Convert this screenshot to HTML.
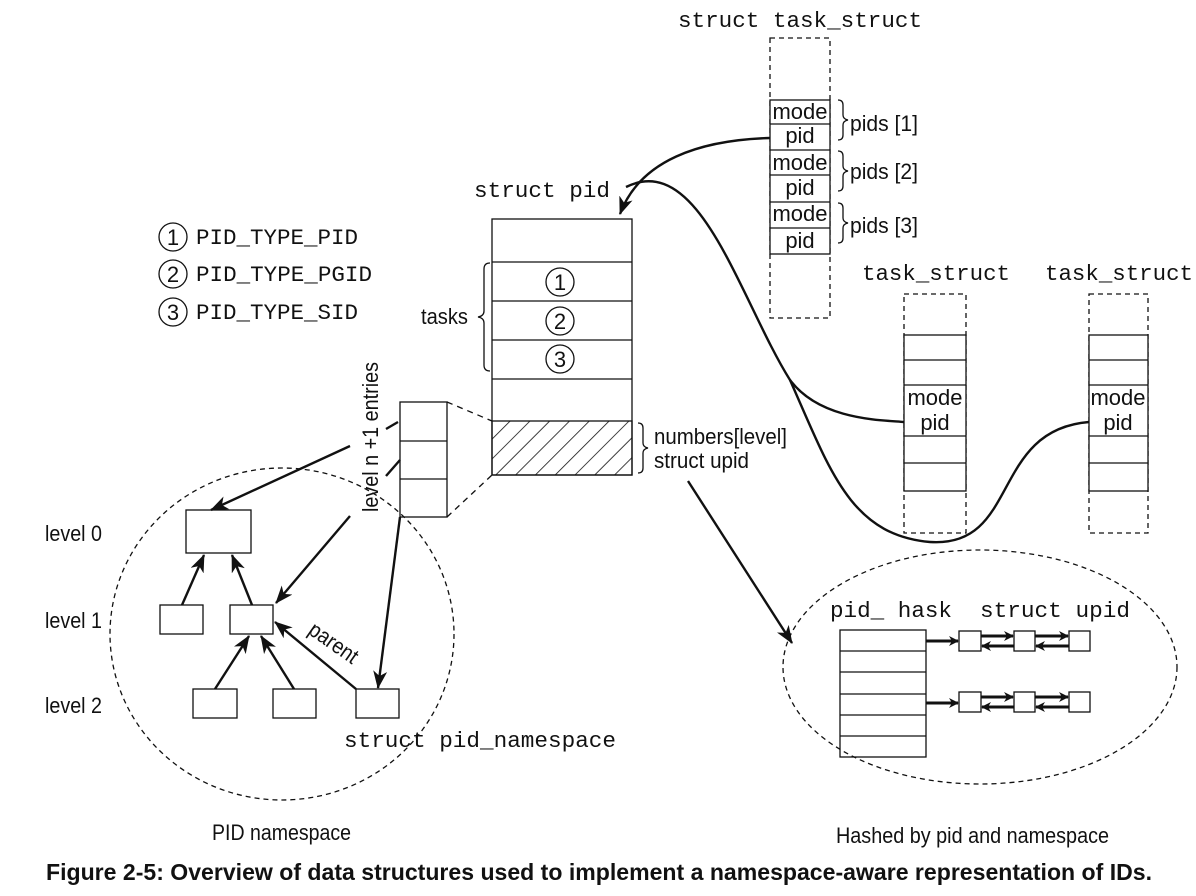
<!DOCTYPE html>
<html><head><style>
body{margin:0;background:#fff;}
svg{display:block;}
.m{font-family:"Liberation Mono",monospace;font-size:22px;}
.s{font-family:"Liberation Sans",sans-serif;font-size:22px;}
</style></head><body>
<svg width="1196" height="896" viewBox="0 0 1196 896" xmlns="http://www.w3.org/2000/svg">
<defs>
<marker id="a" markerWidth="10" markerHeight="10" refX="9" refY="5" orient="auto" markerUnits="userSpaceOnUse"><path d="M0,0 L10,5 L0,10 L3,5 z" fill="#111"/></marker>
<marker id="b" markerWidth="18" markerHeight="14" refX="17" refY="7" orient="auto" markerUnits="userSpaceOnUse"><path d="M0,0 L18,7 L0,14 L5,7 z" fill="#111"/></marker>
<pattern id="h" width="14" height="14" patternUnits="userSpaceOnUse" patternTransform="rotate(45)"><line x1="0" y1="0" x2="0" y2="14" stroke="#111" stroke-width="1.6"/></pattern>
</defs>
<g fill="none" stroke="#111" stroke-width="1.3">
<ellipse cx="282" cy="634" rx="172" ry="166" stroke-dasharray="5,4"/>
<ellipse cx="980" cy="667" rx="197" ry="117" stroke-dasharray="5,4"/>
<rect x="400" y="402" width="47" height="115"/>
<line x1="400" y1="441" x2="447" y2="441"/><line x1="400" y1="479" x2="447" y2="479"/>
<line x1="447" y1="402" x2="492" y2="421" stroke-dasharray="6,5"/>
<line x1="447" y1="517" x2="492" y2="475" stroke-dasharray="6,5"/>
<rect x="186" y="510" width="65" height="43"/>
<rect x="160" y="605" width="43" height="29"/><rect x="230" y="605" width="43" height="29"/>
<rect x="193" y="689" width="44" height="29"/><rect x="273" y="689" width="43" height="29"/><rect x="356" y="689" width="43" height="29"/>
<rect x="492" y="219" width="140" height="256"/>
<rect x="492" y="421" width="140" height="54" fill="url(#h)"/>
<line x1="492" y1="262" x2="632" y2="262"/><line x1="492" y1="301" x2="632" y2="301"/><line x1="492" y1="340" x2="632" y2="340"/><line x1="492" y1="379" x2="632" y2="379"/>
<circle cx="560" cy="282" r="14"/><circle cx="560" cy="321" r="14"/><circle cx="560" cy="359" r="14"/>
<circle cx="173" cy="237" r="14"/><circle cx="173" cy="274" r="14"/><circle cx="173" cy="312" r="14"/>
<path d="M490,263 q-6,0 -6,6 v42 q0,5 -6,6 q6,1 6,6 v42 q0,6 6,6"/>
<path d="M638,423 q5,0 5,5 v15 q0,4 5,5 q-5,1 -5,5 v15 q0,5 -5,5"/>
<path d="M838,100 q5,0 5,5 v10 q0,4 5,5 q-5,1 -5,5 v10 q0,5 -5,5"/>
<path d="M838,151 q5,0 5,5 v10 q0,4 5,5 q-5,1 -5,5 v10 q0,5 -5,5"/>
<path d="M838,203 q5,0 5,5 v10 q0,4 5,5 q-5,1 -5,5 v10 q0,5 -5,5"/>
<rect x="770" y="38" width="60" height="280" stroke-dasharray="5,4"/>
<rect x="770" y="100" width="60" height="154" fill="#fff"/>
<line x1="770" y1="124" x2="830" y2="124"/><line x1="770" y1="150" x2="830" y2="150"/><line x1="770" y1="175" x2="830" y2="175"/><line x1="770" y1="202" x2="830" y2="202"/><line x1="770" y1="228" x2="830" y2="228"/>
<rect x="904" y="294" width="62" height="239" stroke-dasharray="5,4"/>
<rect x="904" y="335" width="62" height="156" fill="#fff"/>
<line x1="904" y1="360" x2="966" y2="360"/><line x1="904" y1="385" x2="966" y2="385"/><line x1="904" y1="436" x2="966" y2="436"/><line x1="904" y1="463" x2="966" y2="463"/>
<rect x="1089" y="294" width="59" height="239" stroke-dasharray="5,4"/>
<rect x="1089" y="335" width="59" height="156" fill="#fff"/>
<line x1="1089" y1="360" x2="1148" y2="360"/><line x1="1089" y1="385" x2="1148" y2="385"/><line x1="1089" y1="436" x2="1148" y2="436"/><line x1="1089" y1="463" x2="1148" y2="463"/>
<rect x="840" y="630" width="86" height="127"/>
<line x1="840" y1="651" x2="926" y2="651"/><line x1="840" y1="672" x2="926" y2="672"/><line x1="840" y1="694" x2="926" y2="694"/><line x1="840" y1="715" x2="926" y2="715"/><line x1="840" y1="736" x2="926" y2="736"/>
<rect x="959" y="631" width="22" height="20"/><rect x="1014" y="631" width="21" height="20"/><rect x="1069" y="631" width="21" height="20"/>
<rect x="959" y="692" width="22" height="20"/><rect x="1014" y="692" width="21" height="20"/><rect x="1069" y="692" width="21" height="20"/>
</g>
<g stroke="#111" stroke-width="3" fill="none">
<line x1="926" y1="641" x2="958" y2="641" marker-end="url(#a)"/>
<line x1="981" y1="636" x2="1013" y2="636" marker-end="url(#a)"/>
<line x1="1014" y1="646" x2="982" y2="646" marker-end="url(#a)"/>
<line x1="1035" y1="636" x2="1068" y2="636" marker-end="url(#a)"/>
<line x1="1069" y1="646" x2="1036" y2="646" marker-end="url(#a)"/>
<line x1="926" y1="703" x2="958" y2="703" marker-end="url(#a)"/>
<line x1="981" y1="697" x2="1013" y2="697" marker-end="url(#a)"/>
<line x1="1014" y1="707" x2="982" y2="707" marker-end="url(#a)"/>
<line x1="1035" y1="697" x2="1068" y2="697" marker-end="url(#a)"/>
<line x1="1069" y1="707" x2="1036" y2="707" marker-end="url(#a)"/>
</g>
<g stroke="#111" stroke-width="2.4" fill="none">
<line x1="350" y1="446" x2="211" y2="510" marker-end="url(#b)"/>
<line x1="398" y1="422" x2="386" y2="429"/>
<line x1="400" y1="460" x2="386" y2="476"/>
<line x1="350" y1="516" x2="276" y2="603" marker-end="url(#b)"/>
<line x1="400" y1="517" x2="378" y2="688" marker-end="url(#b)"/>
<line x1="182" y1="605" x2="204" y2="555" marker-end="url(#b)"/>
<line x1="252" y1="605" x2="232" y2="555" marker-end="url(#b)"/>
<line x1="215" y1="689" x2="249" y2="636" marker-end="url(#b)"/>
<line x1="294" y1="689" x2="261" y2="636" marker-end="url(#b)"/>
<line x1="356" y1="689" x2="275" y2="622" marker-end="url(#b)"/>
<line x1="688" y1="481" x2="792" y2="643" marker-end="url(#b)"/>
<path d="M770,138 C700,140 640,160 620,214" marker-end="url(#b)"/>
<path d="M626,187 C700,150 740,300 790,380 C820,420 880,420 904,422"/>
<path d="M790,380 C830,470 850,535 930,542 C1020,548 990,430 1089,422"/>
</g>
<g class="m" fill="#111">
<text x="678" y="27" textLength="244" lengthAdjust="spacingAndGlyphs">struct task_struct</text>
<text x="474" y="197" textLength="136" lengthAdjust="spacingAndGlyphs">struct pid</text>
<text x="862" y="280" textLength="148" lengthAdjust="spacingAndGlyphs">task_struct</text>
<text x="1045" y="280" textLength="148" lengthAdjust="spacingAndGlyphs">task_struct</text>
<text x="196" y="244" textLength="162" lengthAdjust="spacingAndGlyphs">PID_TYPE_PID</text>
<text x="196" y="281" textLength="176" lengthAdjust="spacingAndGlyphs">PID_TYPE_PGID</text>
<text x="196" y="319" textLength="162" lengthAdjust="spacingAndGlyphs">PID_TYPE_SID</text>
<text x="344" y="747" textLength="272" lengthAdjust="spacingAndGlyphs">struct pid_namespace</text>
<text x="830" y="617" textLength="122" lengthAdjust="spacingAndGlyphs">pid_ hask</text>
<text x="980" y="617" textLength="150" lengthAdjust="spacingAndGlyphs">struct upid</text>
</g>
<g class="s" fill="#111">
<text x="800" y="119" text-anchor="middle">mode</text>
<text x="800" y="143" text-anchor="middle">pid</text>
<text x="800" y="170" text-anchor="middle">mode</text>
<text x="800" y="195" text-anchor="middle">pid</text>
<text x="800" y="221" text-anchor="middle">mode</text>
<text x="800" y="248" text-anchor="middle">pid</text>
<text x="850" y="131" textLength="68" lengthAdjust="spacingAndGlyphs">pids [1]</text>
<text x="850" y="179" textLength="68" lengthAdjust="spacingAndGlyphs">pids [2]</text>
<text x="850" y="233" textLength="68" lengthAdjust="spacingAndGlyphs">pids [3]</text>
<text x="935" y="405" text-anchor="middle">mode</text>
<text x="935" y="430" text-anchor="middle">pid</text>
<text x="1118" y="405" text-anchor="middle">mode</text>
<text x="1118" y="430" text-anchor="middle">pid</text>
<text x="560" y="290" text-anchor="middle">1</text>
<text x="560" y="329" text-anchor="middle">2</text>
<text x="560" y="367" text-anchor="middle">3</text>
<text x="173" y="245" text-anchor="middle">1</text>
<text x="173" y="282" text-anchor="middle">2</text>
<text x="173" y="320" text-anchor="middle">3</text>
<text x="421" y="324" textLength="47" lengthAdjust="spacingAndGlyphs">tasks</text>
<text x="654" y="444" textLength="133" lengthAdjust="spacingAndGlyphs">numbers[level]</text>
<text x="654" y="468" textLength="95" lengthAdjust="spacingAndGlyphs">struct upid</text>
<text x="45" y="541" textLength="57" lengthAdjust="spacingAndGlyphs">level 0</text>
<text x="45" y="628" textLength="57" lengthAdjust="spacingAndGlyphs">level 1</text>
<text x="45" y="713" textLength="57" lengthAdjust="spacingAndGlyphs">level 2</text>
<text transform="translate(378,512) rotate(-90)" textLength="150" lengthAdjust="spacingAndGlyphs">level n +1 entries</text>
<text transform="translate(307,633) rotate(35)" textLength="55" lengthAdjust="spacingAndGlyphs">parent</text>
<text x="212" y="840" textLength="139" lengthAdjust="spacingAndGlyphs">PID namespace</text>
<text x="836" y="843" textLength="273" lengthAdjust="spacingAndGlyphs">Hashed by pid and namespace</text>
<text x="46" y="880" font-weight="bold" font-size="23" textLength="1106" lengthAdjust="spacingAndGlyphs">Figure 2-5: Overview of data structures used to implement a namespace-aware representation of IDs.</text>
</g>
</svg>
</body></html>
